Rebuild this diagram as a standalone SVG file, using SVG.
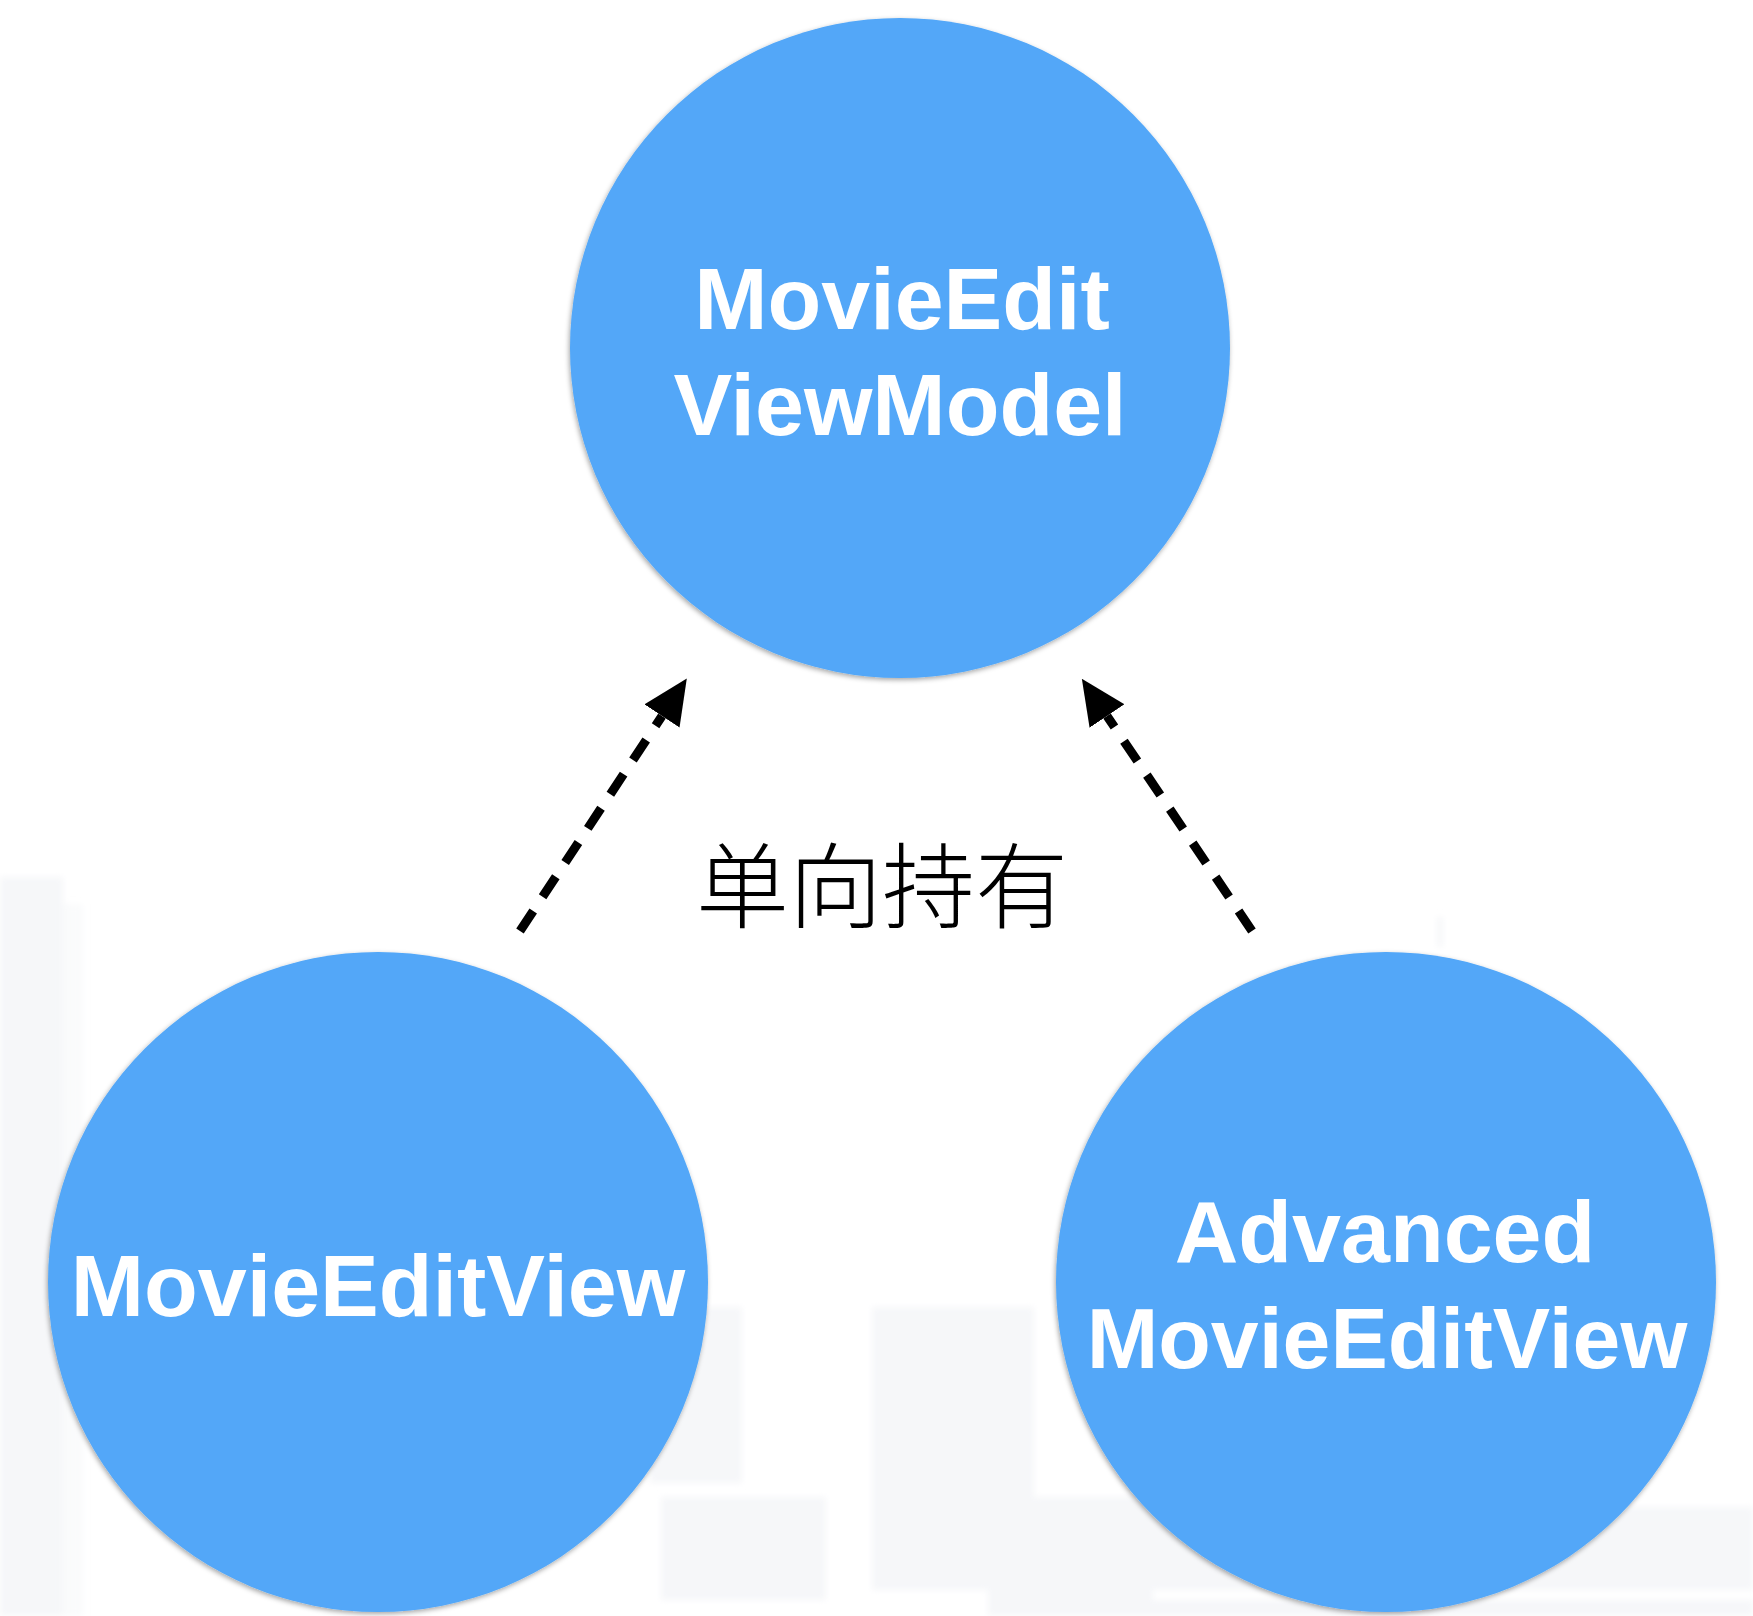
<svg xmlns="http://www.w3.org/2000/svg" width="1753" height="1616" viewBox="0 0 1753 1616">
  <style>
    .node { fill: #52A7F8; filter: url(#shadow); }
    .label { fill: #ffffff; font-family: "Liberation Sans", Arial, Helvetica, sans-serif; font-weight: bold; font-size: 88px; text-anchor: middle; }
    .link { stroke: #000000; stroke-width: 9; fill: none; stroke-dasharray: 24 17; marker-end: url(#head); }
    .caption { fill: #000000; font-family: "Noto Sans CJK SC", "Noto Sans", sans-serif; font-weight: 300; font-size: 93px; text-anchor: middle; }
    .bg { fill: #f6f7f9; }
  </style>
  <defs>
    <filter id="shadow" x="-10%" y="-10%" width="120%" height="120%">
      <feDropShadow dx="-1" dy="2" stdDeviation="2.5" flood-color="#000000" flood-opacity="0.35"/>
    </filter>
    <filter id="soft" x="-5%" y="-5%" width="110%" height="110%">
      <feGaussianBlur stdDeviation="3"/>
    </filter>
    <marker id="head" viewBox="0 0 45 42" refX="0" refY="21" markerWidth="45" markerHeight="42" markerUnits="userSpaceOnUse" orient="auto">
      <path d="M0,0 L45,21 L0,42 Z" fill="#000000"/>
    </marker>
  </defs>

  <rect width="1753" height="1616" fill="#ffffff"/>

  <!-- faint backdrop blocks -->
  <g id="backdrop" filter="url(#soft)">
    <rect class="bg" x="0" y="877" width="63" height="739"/>
    <rect class="bg" x="63" y="904" width="20" height="712" opacity="0.5"/>
    <rect class="bg" x="650" y="1307" width="92" height="176"/>
    <rect class="bg" x="661" y="1497" width="165" height="103"/>
    <rect class="bg" x="872" y="1307" width="162" height="283"/>
    <rect class="bg" x="988" y="1497" width="165" height="119"/>
    <rect class="bg" x="1153" y="1507" width="600" height="83"/>
    <rect class="bg" x="1153" y="1600" width="600" height="16"/>
    <rect class="bg" x="1437" y="917" width="6" height="30"/>
  </g>

  <!-- connectors -->
  <g id="connectors">
    <line class="link" x1="520" y1="931" x2="662" y2="716"/>
    <line class="link" x1="1252" y1="931" x2="1107" y2="716"/>
    <text class="caption" x="882" y="921">单向持有</text>
  </g>

  <!-- nodes -->
  <g id="viewmodel">
    <circle class="node" cx="900" cy="348" r="330"/>
    <text class="label" x="902" y="329">MovieEdit</text>
    <text class="label" x="900" y="435">ViewModel</text>
  </g>
  <g id="editview">
    <circle class="node" cx="378" cy="1282" r="330"/>
    <text class="label" x="378" y="1316">MovieEditView</text>
  </g>
  <g id="advanced-editview">
    <circle class="node" cx="1386" cy="1282" r="330"/>
    <text class="label" x="1385" y="1262">Advanced</text>
    <text class="label" x="1387" y="1368" style="font-size:86px">MovieEditView</text>
  </g>
</svg>
